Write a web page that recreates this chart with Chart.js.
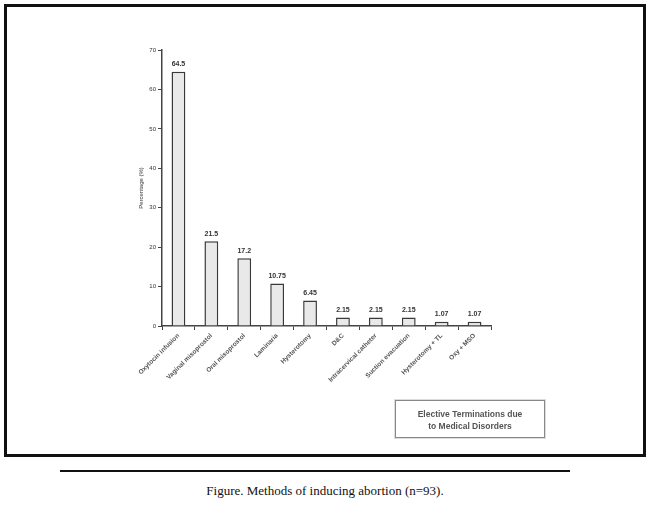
<!DOCTYPE html>
<html>
<head>
<meta charset="utf-8">
<script src="https://cdn.jsdelivr.net/npm/chart.js@4"></script>
<style>
  html, body { margin: 0; padding: 0; background: #fff; }
  body { width: 650px; height: 507px; position: relative; overflow: hidden; }
  #frame {
    position: absolute; left: 4px; top: 4px; width: 636px; height: 447px;
    border: 3px solid #111;
  }
  #wrap { position: absolute; left: 0; top: 0; width: 636px; height: 447px; }
  #legendBox {
    position: absolute; left: 388px; top: 393px; width: 150px; height: 38px;
    border: 1px solid #888; box-shadow: 0 0 0 1px #ddd;
    font: bold 8.5px Arial, "Liberation Sans", sans-serif; color: #555;
    text-align: center; line-height: 12px; padding-top: 7px; box-sizing: border-box;
  }
  #rule { position: absolute; left: 60px; top: 470px; width: 510px; height: 2px; background: #111; }
  #caption {
    position: absolute; left: 0; width: 650px; top: 483px; text-align: center;
    font: 13px "Liberation Serif", "DejaVu Serif", serif; color: #111;
  }
</style>
</head>
<body>
<div id="frame">
  <div id="wrap"><canvas id="chart" width="636" height="447"></canvas></div>
  <div id="legendBox">Elective Terminations due<br>to Medical Disorders</div>
</div>
<div id="rule"></div>
<div id="caption">Figure. Methods of inducing abortion (n=93).</div>
<script>
// data
const methods = [
	'Oxytocin infusion',
	'Vaginal misoprostol',
	'Oral misoprostol',
	'Laminaria',
	'Hysterotomy',
	'D&C',
	'Intracervical catheter',
	'Suction evacuation',
	'Hysterotomy + TL',
	'Oxy + MSO',
];
const percentages = [ 64.5, 21.5, 17.2, 10.75, 6.45, 2.15, 2.15, 2.15, 1.07, 1.07 ];
const valueLabels = [ '64.5', '21.5', '17.2', '10.75', '6.45', '2.15', '2.15', '2.15', '1.07', '1.07' ];
const yTicks = [ 0, 10, 20, 30, 40, 50, 60, 70 ];

const axisFont = { family: 'Arial, "Liberation Sans", sans-serif', size: 6 };

// draw the value on top of each bar
const barValues = {
	id: 'barValues',
	afterDatasetsDraw( chart ) {
		const ctx = chart.ctx;
		const meta = chart.getDatasetMeta( 0 );
		ctx.save();
		ctx.font = 'bold 7px Arial, "Liberation Sans", sans-serif';
		ctx.fillStyle = '#333';
		ctx.textAlign = 'center';
		ctx.textBaseline = 'bottom';
		meta.data.forEach( ( bar, i ) => {
			ctx.fillText( valueLabels[ i ], bar.x, bar.y - 4 );
		} );
		ctx.restore();
	},
};

new Chart( document.getElementById( 'chart' ), {
	type: 'bar',
	data: {
		labels: methods,
		datasets: [
			{
				data: percentages,
				backgroundColor: '#e9e9e9',
				borderColor: '#3a3a3a',
				borderWidth: 1.5,
				barPercentage: 0.42,
				categoryPercentage: 1,
			},
		],
	},
	options: {
		responsive: false,
		animation: false,
		layout: { padding: { left: 129, right: 152, top: 43, bottom: 20 } },
		plugins: {
			legend: { display: false },
			tooltip: { enabled: false },
		},
		scales: {
			x: {
				offset: true,
				grid: {
					drawOnChartArea: false,
					color: '#444',
					tickLength: 4,
					offset: true,
				},
				border: { color: '#444', width: 1.5 },
				ticks: {
					font: { family: axisFont.family, size: 6.5, weight: 'bold' },
					color: '#555',
					maxRotation: 45,
					minRotation: 45,
					autoSkip: false,
					padding: 2,
				},
				afterFit( scale ) {
					scale.height = 108;
				},
			},
			y: {
				min: 0,
				max: 70,
				afterBuildTicks( scale ) {
					scale.ticks = yTicks.map( ( v ) => ( { value: v } ) );
				},
				grid: {
					drawOnChartArea: false,
					color: '#444',
					tickLength: 4,
				},
				border: { color: '#444', width: 1.5 },
				ticks: { font: axisFont, color: '#333', padding: 2 },
				title: {
					display: true,
					text: 'Percentage (%)',
					font: axisFont,
					color: '#333',
					padding: 2,
				},
				afterFit( scale ) {
					scale.width = 26;
				},
			},
		},
	},
	plugins: [ barValues ],
} );
</script>
</body>
</html>
